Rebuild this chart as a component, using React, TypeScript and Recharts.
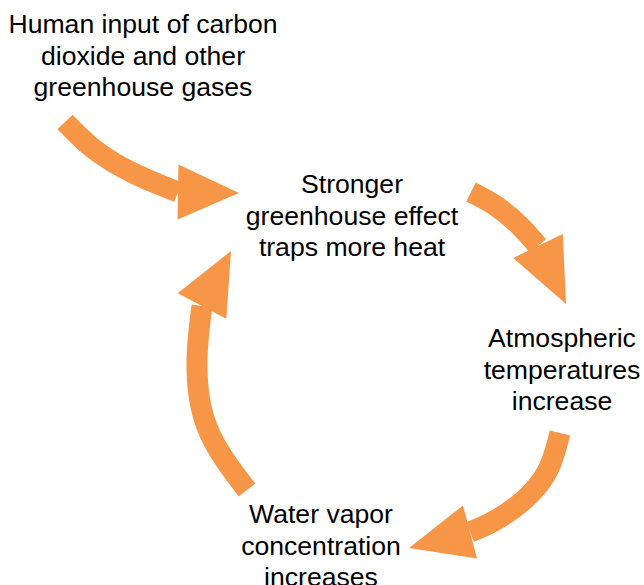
import React from 'react';
import { ComposedChart, Line, Scatter, XAxis, YAxis } from 'recharts';

// canvas units = pixels of the picture (y grows downwards)
const W = 644;
const H = 585;

// arrow bodies: centre line from tail to the base of the head
const arrowInput = [
  { x: 65, y: 122 },
  { x: 95, y: 150 },
  { x: 135, y: 174 },
  { x: 178, y: 192 },
];
const arrowToTemp = [
  { x: 471, y: 192 },
  { x: 496, y: 206 },
  { x: 520, y: 226 },
  { x: 538, y: 246 },
];
const arrowToVapor = [
  { x: 560, y: 433 },
  { x: 548, y: 470 },
  { x: 524, y: 500 },
  { x: 494, y: 521 },
  { x: 470, y: 532 },
];
const arrowToEffect = [
  { x: 247, y: 490 },
  { x: 207, y: 427 },
  { x: 197, y: 360 },
  { x: 202, y: 306 },
];
const arrowBodies = [arrowInput, arrowToTemp, arrowToVapor, arrowToEffect];

// arrow heads: tip point plus base centre (direction)
const arrowHeads = [
  { x: 239, y: 193, bx: 178, by: 192 },
  { x: 566, y: 304, bx: 538, by: 246 },
  { x: 409, y: 548, bx: 470, by: 532 },
  { x: 231, y: 251, bx: 202, by: 306 },
];

// text boxes: centre x, first baseline y
const labelLines = [
  ['Human input of carbon', 'dioxide and other', 'greenhouse gases'],
  ['Stronger', 'greenhouse effect', 'traps more heat'],
  ['Atmospheric', 'temperatures', 'increase'],
  ['Water vapor', 'concentration', 'increases'],
];
const labelX = [143, 352, 562, 321];
const labelY = [33, 193, 347, 523];

const labels = labelLines.map((lines, i) => ({ x: labelX[i], y: labelY[i], lines }));

const ORANGE = '#F79646';
const FONT = '"Liberation Sans", Arial, Helvetica, sans-serif';

const HeadShape = (props: any) => {
  const { cx, cy, payload } = props;
  if (cx == null || cy == null) return null;
  const dx = payload.x - payload.bx;
  const dy = payload.y - payload.by;
  const len = Math.sqrt(dx * dx + dy * dy);
  const ux = dx / len;
  const uy = dy / len;
  const half = 27.5;
  const baseX = cx - ux * len;
  const baseY = cy - uy * len;
  const p1 = `${baseX - uy * half},${baseY + ux * half}`;
  const p2 = `${baseX + uy * half},${baseY - ux * half}`;
  return <polygon points={`${cx},${cy} ${p1} ${p2}`} fill={ORANGE} />;
};

const LabelShape = (props: any) => {
  const { cx, cy, payload } = props;
  if (cx == null || cy == null) return null;
  return (
    <text x={cx} y={cy} textAnchor="middle" fontFamily={FONT} fontSize={26.6} fill="#000">
      {payload.lines.map((line: string, i: number) => (
        <tspan key={i} x={cx} dy={i === 0 ? 0 : 31.5}>
          {line}
        </tspan>
      ))}
    </text>
  );
};

export default function App() {
  return (
    <div style={{ position: 'absolute', left: 0, top: 0, width: W, height: H, background: '#fff' }}>
      <ComposedChart width={W} height={H} margin={{ top: 0, right: 0, bottom: 0, left: 0 }}>
        <XAxis dataKey="x" type="number" domain={[0, W]} hide allowDataOverflow />
        <YAxis dataKey="y" type="number" domain={[0, H]} reversed hide allowDataOverflow />
        {arrowBodies.map((body, i) => (
          <Line
            key={`body-${i}`}
            data={body}
            dataKey="y"
            type="natural"
            stroke={ORANGE}
            strokeWidth={21}
            strokeLinecap="butt"
            dot={false}
            activeDot={false}
            isAnimationActive={false}
          />
        ))}
        <Scatter data={arrowHeads} dataKey="y" shape={HeadShape} isAnimationActive={false} />
        <Scatter data={labels} dataKey="y" shape={LabelShape} isAnimationActive={false} />
      </ComposedChart>
    </div>
  );
}
